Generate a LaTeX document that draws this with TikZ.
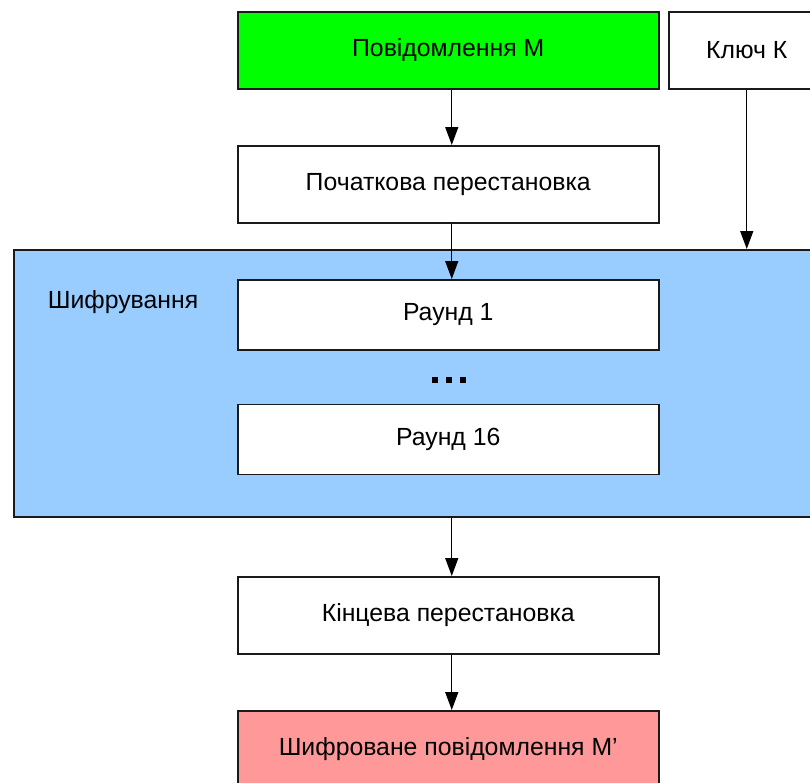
\documentclass[tikz,border=0pt]{standalone}
\usepackage{fontspec}
\setmainfont{Liberation Sans}
\usetikzlibrary{arrows.meta}
\definecolor{msggreen}{HTML}{00FF00}
\definecolor{encblue}{HTML}{99CCFF}
\definecolor{outred}{HTML}{FF9999}
\definecolor{edge}{HTML}{1A1A1A}
\begin{document}
\begin{tikzpicture}[x=1pt,y=-1pt,
  labelfont/.style={font=\fontsize{24.8}{29}\selectfont},
  box/.style={draw=edge, line width=1.5pt, fill=white, inner sep=0pt,
    minimum width=421pt, minimum height=77pt, anchor=north west, labelfont},
  roundbox/.style={box, minimum height=70pt},
  flow/.style={line width=1.4pt, draw=black, -{Triangle[length=18pt,width=13pt]}},
  dotmark/.style={fill=black, inner sep=0pt, minimum width=6pt, minimum height=5.5pt}]
\useasboundingbox (0,0) rectangle (810,782);
\clip (0,0) rectangle (810,782);

% top row: plaintext and key
\node[box, fill=msggreen] (msg) at (237,11) {Повідомлення М};
\node[box, minimum width=156pt] (key) at (668,11) {Ключ К};

% initial permutation
\node[box] (init) at (237,145) {Початкова перестановка};

% encryption block with its rounds
\node[box, fill=encblue, minimum width=830pt, minimum height=267pt] (enc) at (13,249) {};
\node[labelfont] (enclabel) at (123,302) {Шифрування};
\node[roundbox] (r1) at (237,279) {Раунд 1};
\node[dotmark] (d1) at (435,380) {};
\node[dotmark] (d2) at (449,380) {};
\node[dotmark] (d3) at (463,380) {};
\node[roundbox] (r16) at (237,403.5) {Раунд 16};

% final permutation and ciphertext
\node[box] (fin) at (237,576) {Кінцева перестановка};
\node[box, fill=outred] (out) at (237,710) {Шифроване повідомлення М’};

% connectors
\draw[flow] ([xshift=3.5pt]msg.south) -- ([xshift=3.5pt]init.north);
\draw[flow] ([xshift=3.5pt]init.south) -- ([xshift=3.5pt]r1.north);
\draw[flow] (key.south) -- (key.south |- enc.north);
\draw[flow] ([xshift=3.5pt]enc.south -| fin.north) -- ([xshift=3.5pt]fin.north);
\draw[flow] ([xshift=3.5pt]fin.south) -- ([xshift=3.5pt]out.north);
\end{tikzpicture}
\end{document}
